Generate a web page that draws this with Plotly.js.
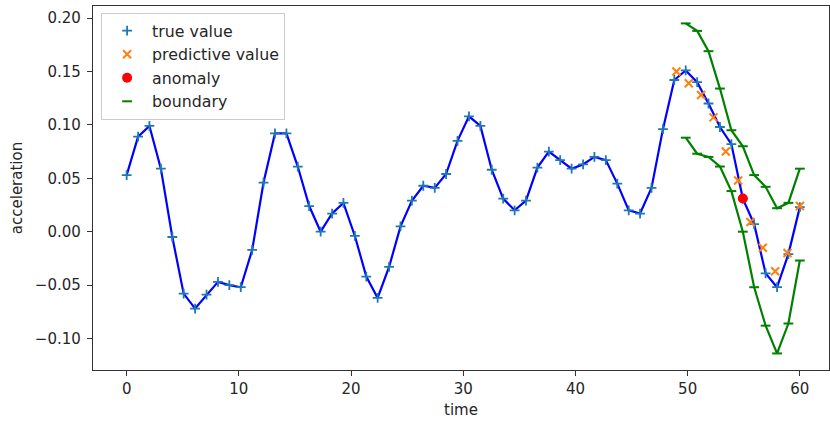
<!DOCTYPE html>
<html>
<head>
<meta charset="utf-8">
<script src="https://cdn.plot.ly/plotly-3.0.1.min.js"></script>
<style>html,body{margin:0;padding:0;background:#fff;}#chart{width:830px;height:423px;}</style>
</head>
<body>
<div id="chart"></div>
<script>
var trueTime = [0, 1.02, 2.03, 3.05, 4.07, 5.08, 6.10, 7.12, 8.14, 9.15, 10.17, 11.19, 12.20, 13.22, 14.24, 15.25, 16.27, 17.29, 18.31, 19.32, 20.34, 21.36, 22.37, 23.39, 24.41, 25.42, 26.44, 27.46, 28.47, 29.49, 30.51, 31.53, 32.54, 33.56, 34.58, 35.59, 36.61, 37.63, 38.64, 39.66, 40.68, 41.69, 42.71, 43.73, 44.75, 45.76, 46.78, 47.80, 48.81, 49.83, 50.85, 51.86, 52.88, 53.90, 54.92, 55.93, 56.95, 57.97, 58.98, 60.00];
var trueValue = [0.053, 0.089, 0.099, 0.059, -0.005, -0.058, -0.072, -0.059, -0.047, -0.050, -0.052, -0.017, 0.046, 0.092, 0.092, 0.061, 0.024, 0.000, 0.017, 0.027, -0.004, -0.042, -0.062, -0.033, 0.005, 0.029, 0.043, 0.041, 0.054, 0.085, 0.108, 0.099, 0.058, 0.031, 0.020, 0.029, 0.060, 0.075, 0.067, 0.059, 0.063, 0.070, 0.067, 0.045, 0.020, 0.017, 0.041, 0.096, 0.142, 0.151, 0.140, 0.120, 0.098, 0.082, 0.031, 0.007, -0.039, -0.052, -0.021, 0.023];
var predTime = [49, 50.1, 51.2, 52.3, 53.4, 54.5, 55.6, 56.7, 57.8, 58.9, 60];
var predValue = [0.150, 0.139, 0.128, 0.107, 0.075, 0.048, 0.009, -0.015, -0.037, -0.020, 0.024];
var anomalyTime = [54.92];
var anomalyValue = [0.031];
var boundTime = [49.83, 50.85, 51.86, 52.88, 53.90, 54.92, 55.93, 56.95, 57.97, 58.98, 60.00];
var upperBound = [0.195, 0.188, 0.169, 0.134, 0.095, 0.080, 0.053, 0.042, 0.022, 0.027, 0.059];
var lowerBound = [0.088, 0.073, 0.070, 0.061, 0.038, 0.000, -0.052, -0.088, -0.114, -0.086, -0.027];
var yTicks = [-0.10, -0.05, 0.00, 0.05, 0.10, 0.15, 0.20];
var xTicks = [0, 10, 20, 30, 40, 50, 60];

var font = {family: 'DejaVu Sans, sans-serif', size: 15, color: '#262626'};
var greenMarker = {symbol: 'line-ew', size: 7, color: 'green', line: {color: 'green', width: 2}};
var traces = [
  {x: trueTime, y: trueValue, mode: 'lines', line: {color: 'blue', width: 2.2}, showlegend: false},
  {x: boundTime, y: upperBound, mode: 'lines', line: {color: 'green', width: 2.2}, showlegend: false},
  {x: boundTime, y: lowerBound, mode: 'lines', line: {color: 'green', width: 2.2}, showlegend: false},
  {x: trueTime, y: trueValue, mode: 'markers', name: 'true value', legendgroup: 'a',
   marker: {symbol: 'cross-thin', size: 7, color: '#1f77b4', line: {color: '#1f77b4', width: 1.8}}},
  {x: predTime, y: predValue, mode: 'markers', name: 'predictive value', legendgroup: 'b',
   marker: {symbol: 'x-thin', size: 8, color: '#ff7f0e', line: {color: '#ff7f0e', width: 2}}},
  {x: anomalyTime, y: anomalyValue, mode: 'markers', name: 'anomaly', legendgroup: 'c',
   marker: {symbol: 'circle', size: 10, color: 'red'}},
  {x: boundTime, y: upperBound, mode: 'markers', name: 'boundary', legendgroup: 'd', marker: greenMarker},
  {x: boundTime, y: lowerBound, mode: 'markers', name: 'boundary', legendgroup: 'd', showlegend: false, marker: greenMarker}
];

var layout = {
  width: 830, height: 423,
  margin: {l: 93, r: 1, t: 6, b: 53},
  paper_bgcolor: '#fff', plot_bgcolor: '#fff',
  font: font,
  showlegend: true,
  legend: {x: 0.011, y: 0.981, xanchor: 'left', yanchor: 'top', bgcolor: 'rgba(255,255,255,0.8)',
           bordercolor: '#cccccc', borderwidth: 1, font: {family: 'DejaVu Sans, sans-serif', size: 15.8, color: '#262626'},
           traceorder: 'grouped', tracegroupgap: 0, itemwidth: 40},
  xaxis: {range: [-3, 62.6], tickvals: xTicks, ticktext: xTicks.map(String), showgrid: false, zeroline: false,
          showline: true, linecolor: '#333', linewidth: 1.2, mirror: true, ticks: 'outside', ticklen: 5, tickcolor: '#333',
          title: {text: 'time', font: font, standoff: 7}},
  yaxis: {range: [-0.1295, 0.2113], tickvals: yTicks, tickformat: '.2f', showgrid: false, zeroline: false,
          showline: true, linecolor: '#333', linewidth: 1.2, mirror: true, ticks: 'outside', ticklen: 5, tickcolor: '#333',
          ticklabelstandoff: 3,
          title: {text: 'acceleration', font: font, standoff: 8}}
};
Plotly.newPlot('chart', traces, layout, {displayModeBar: false, staticPlot: true});
</script>
</body>
</html>
